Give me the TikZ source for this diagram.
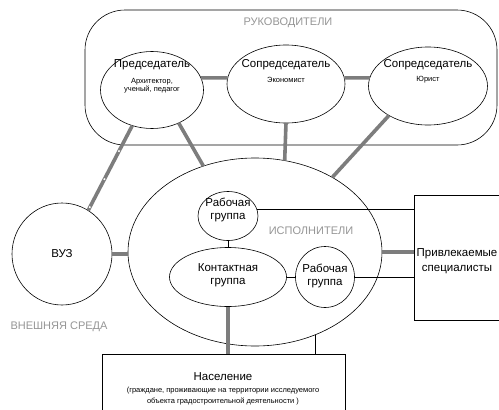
\documentclass[tikz,border=0pt]{standalone}
\usepackage{fontspec}
\setmainfont{Liberation Sans}
\usetikzlibrary{shapes.geometric}
\definecolor{barcol}{RGB}{125,125,125}
\definecolor{labcol}{RGB}{150,150,150}
\tikzset{
  shp/.style={draw=black, line width=0.6pt, inner sep=0pt, outer sep=0pt, fill=white},
  oval/.style={shp, ellipse},
  box/.style={shp, rectangle},
  bar/.style={draw=barcol, line width=3.6pt},
  dotmarks/.style={draw=white, line width=1.6pt, dash pattern=on 1.6pt off 30pt, dash phase=3.6pt},
  thin/.style={draw=black, line width=0.6pt},
  big/.style={font=\fontsize{11.5}{13}\selectfont, align=center, inner sep=0pt},
  small/.style={font=\fontsize{7.5}{7.7}\selectfont, align=center, inner sep=0pt},
  lab/.style={font=\fontsize{11}{13}\selectfont, text=labcol, inner sep=0pt},
}
\begin{document}
\begin{tikzpicture}[x=1pt,y=-1pt]
\useasboundingbox (0,0) rectangle (499,410);
\fill[white] (0,0) rectangle (499,410);
% leaders frame
\node[box, rounded corners=40pt, minimum width=412pt, minimum height=135pt, fill=none] (ruk) at (291,77.5) {};
\node[lab] (tRuk) at (288,23) {РУКОВОДИТЕЛИ};
% shapes
\node[oval, minimum width=103pt, minimum height=77pt] (ch) at (152,90) {};
\node[oval, minimum width=118pt, minimum height=78pt] (eco) at (286,84) {};
\node[oval, minimum width=119pt, minimum height=78pt] (jur) at (428,86) {};
\node[oval, minimum width=254pt, minimum height=188pt] (bigE) at (255,252) {};
\node[oval, minimum width=100pt, minimum height=102pt] (vuz) at (62,254) {};
\node[box, minimum width=100pt, minimum height=125pt, anchor=north west] (spec) at (414,195) {};
\node[box, minimum width=243pt, minimum height=70pt, anchor=north west] (nas) at (102,354) {};
% thick connectors
\draw[bar] (ch.14) -- (eco.174);
\draw[bar] (eco.6) -- (jur.172);
\draw[bar] (eco.south) -- (bigE.72);
\draw[bar] (ch.-51) -- (bigE.121);
\draw[bar] (jur.217) -- (bigE.44);
\draw[bar] (ch.241) -- (vuz.59);
\draw[dotmarks] (ch.241) -- (vuz.59);
\draw[bar] (vuz.east) -- (vuz.east -| bigE.west);
\draw[bar] (bigE.east) -- (bigE.east -| spec.west);
% inner nodes
\node[oval, minimum width=60pt, minimum height=49pt] (rg1) at (228,216) {};
\node[oval, minimum width=117pt, minimum height=59pt] (kg) at (228,277) {};
\node[oval, minimum width=59pt, minimum height=61pt] (rg2) at (325,277) {};
% thin connectors
\draw[thin] (rg1.14) -- (rg1.14 -| spec.west);
\draw[thin] (rg1.south) -- (kg.north);
\draw[thin] (kg.east) -- (rg2.west);
\draw[thin] (rg2.east) -- (rg2.east -| spec.west);
\draw[thin] (bigE.-54) -- (bigE.-54 |- nas.north);
\draw[bar] (kg.south) -- (kg.south |- nas.north);
% texts
\node[big] (tCh) at (152,65) {Председатель};
\node[small] (tChS) at (152,85.7) {Архитектор,\\ученый, педагог};
\node[big] (tEco) at (286,65) {Сопредседатель};
\node[small] (tEcoS) at (286,80) {Экономист};
\node[big] (tJur) at (428,65) {Сопредседатель};
\node[small] (tJurS) at (428,80) {Юрист};
\node[big] (tVuz) at (62,254) {ВУЗ};
\node[lab] (tIsp) at (311,231) {ИСПОЛНИТЕЛИ};
\node[big] (tRg1) at (rg1.center) [yshift=6.5pt] {Рабочая\\группа};
\node[big] (tKg) at (228,275) {Контактная\\группа};
\node[big] (tRg2) at (325,275.5) {Рабочая\\группа};
\node[big, font=\fontsize{11.5}{15}\selectfont] (tSpec) at (457,261) {Привлекаемые\\специалисты};
\node[lab] (tExt) at (59,327) {ВНЕШНЯЯ СРЕДА};
\node[big] (tNas) at (223,377) {Население};
\node[small, font=\fontsize{7.5}{11}\selectfont] (tNasS) at (223,396.5) {(граждане, проживающие на территории исследуемого\\объекта градостроительной деятельности )};
\end{tikzpicture}
\end{document}
